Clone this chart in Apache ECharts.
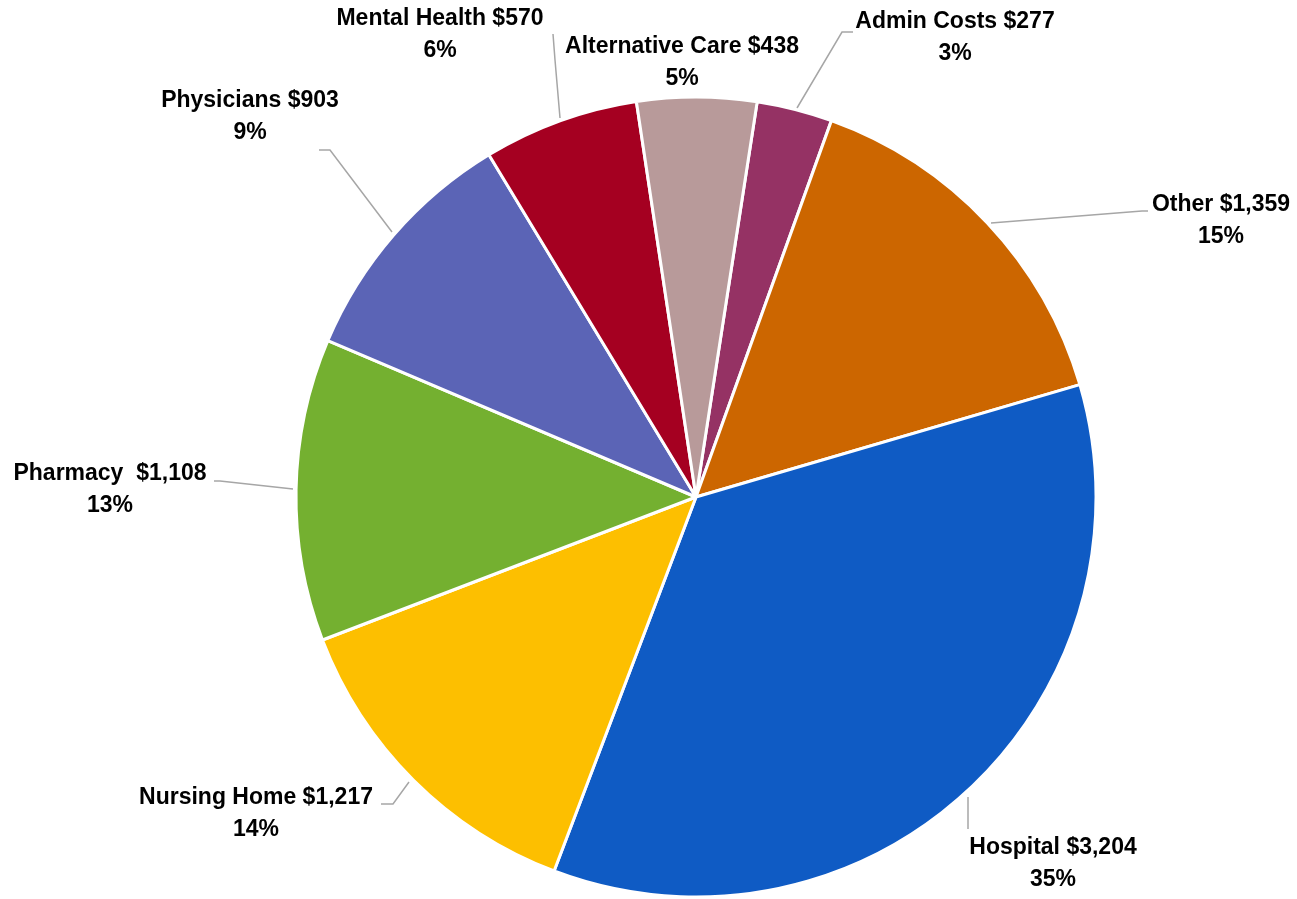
<!DOCTYPE html>
<html>
<head>
<meta charset="utf-8">
<script src="https://cdn.jsdelivr.net/npm/echarts@6/dist/echarts.min.js"></script>
<style>
    html, body { margin: 0; padding: 0; background: #ffffff; }
    #chart { width: 1297px; height: 899px; }
</style>
</head>
<body>
<div id="chart"></div>
<script>
// slices, clockwise from the top
const categories = ['Admin Costs', 'Other', 'Hospital', 'Nursing Home', 'Pharmacy ', 'Physicians', 'Mental Health', 'Alternative Care'];
const values = [277, 1359, 3204, 1217, 1108, 903, 570, 438];
const percentLabels = ['3%', '15%', '35%', '14%', '13%', '9%', '6%', '5%'];
const sliceColors = ['#953264', '#cc6600', '#0f5bc4', '#fdbf00', '#74b030', '#5b64b6', '#a50021', '#b89a9a'];

// label placement (center of text block) and leader lines
const labelPlaces = [
    { x: 955, y: 38, line: [[797, 108], [842, 32], [853, 32]] },
    { x: 1221, y: 221, line: [[991, 223], [1142, 211], [1148, 211]] },
    { x: 1053, y: 864, line: [[968, 797], [968, 812], [968, 829]] },
    { x: 256, y: 814, line: [[409, 782], [393, 804], [381, 804]] },
    { x: 110, y: 490, line: [[293, 489], [220, 481], [214, 481]] },
    { x: 250, y: 117, line: [[392, 232], [330, 150], [319, 150]] },
    { x: 440, y: 35, line: [[560, 118], [555, 60], [553, 34]] },
    { x: 682, y: 63, line: null }
];

function money(v) {
    return '$' + v.toString().replace(/\B(?=(\d{3})+(?!\d))/g, ',');
}

let pieData = [];
for (let i = 0; i < categories.length; i++) {
    let item = {
        name: categories[i],
        value: values[i],
        itemStyle: { color: sliceColors[i] }
    };
    if (!labelPlaces[i].line) {
        item.labelLine = { show: false };
    }
    pieData.push(item);
}

var chart = echarts.init(document.getElementById('chart'), null, { renderer: 'canvas' });
var option = {
    backgroundColor: '#ffffff',
    animation: false,
    series: [{
        type: 'pie',
        center: [696, 497],
        radius: 400,
        startAngle: 81.2,
        clockwise: true,
        data: pieData,
        itemStyle: {
            borderColor: '#ffffff',
            borderWidth: 3
        },
        label: {
            show: true,
            position: 'outside',
            fontFamily: 'Liberation Sans',
            fontWeight: 'bold',
            fontSize: 23,
            lineHeight: 32,
            color: '#000000',
            align: 'center',
            formatter: function (p) {
                return p.name + ' ' + money(p.value) + '\n' + percentLabels[p.dataIndex];
            }
        },
        labelLine: {
            show: true,
            smooth: false,
            lineStyle: { color: '#a6a6a6', width: 1.5 }
        },
        labelLayout: function (params) {
            let place = labelPlaces[params.dataIndex];
            let out = {
                x: place.x,
                y: place.y,
                align: 'center',
                verticalAlign: 'middle'
            };
            if (place.line) {
                out.labelLinePoints = place.line;
            }
            return out;
        }
    }]
};
chart.setOption(option);
</script>
</body>
</html>
